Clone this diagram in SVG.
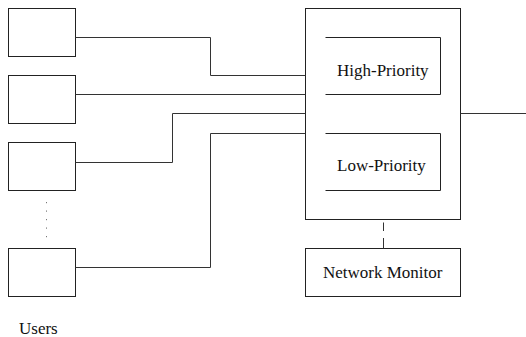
<svg xmlns="http://www.w3.org/2000/svg" width="526" height="337" viewBox="0 0 526 337">
<style>
.b{fill:none;stroke:#222;stroke-width:1}
.c{fill:none;stroke:#333;stroke-width:1}
text{font-family:'Liberation Serif','DejaVu Serif',serif;font-size:17px;fill:#111}
</style>
<rect width="526" height="337" fill="#fff"/>
<g id="user1"><rect class="b" x="8.5" y="8.5" width="67" height="48"/></g>
<g id="user2"><rect class="b" x="8.5" y="75.5" width="67" height="48"/></g>
<g id="user3"><rect class="b" x="8.5" y="142.5" width="67" height="48"/></g>
<g id="ellipsis" fill="#777">
<rect x="46" y="202" width="1" height="1.2"/>
<rect x="46" y="210.5" width="1" height="1.2"/>
<rect x="46" y="219" width="1" height="1.2"/>
<rect x="46" y="227.5" width="1" height="1.2"/>
<rect x="46" y="236" width="1" height="1.2"/>
</g>
<g id="user4"><rect class="b" x="8.5" y="248.5" width="67" height="48"/></g>
<g id="users-label"><text font-family="Liberation Serif, serif" x="19" y="334">Users</text></g>
<g id="scheduler"><rect class="b" x="305.5" y="8.5" width="155" height="211"/></g>
<g id="high-priority"><path class="b" d="M325.5,37.5 H440.5 V94.5 H325.5"/><text font-family="Liberation Serif, serif" x="337" y="76">High-Priority</text></g>
<g id="low-priority"><path class="b" d="M325.5,133.5 H440.5 V190.5 H325.5"/><text font-family="Liberation Serif, serif" x="337" y="171">Low-Priority</text></g>
<g id="network-monitor"><rect class="b" x="305.5" y="248.5" width="155" height="48"/><text font-family="Liberation Serif, serif" x="323" y="277.5">Network Monitor</text></g>
<g id="connectors">
<path class="c" d="M75.5,37.5 H210.5 V75.5 H305.5"/>
<path class="c" d="M75.5,94.5 H305.5"/>
<path class="c" d="M75.5,162.5 H172.5 V113.5 H305.5"/>
<path class="c" d="M75.5,267.5 H210.5 V133.5 H305.5"/>
<path class="c" d="M460.5,113.5 H526"/>
<path class="c" d="M383.5,222.5 V231 M383.5,238 V248.5"/>
</g>
</svg>
